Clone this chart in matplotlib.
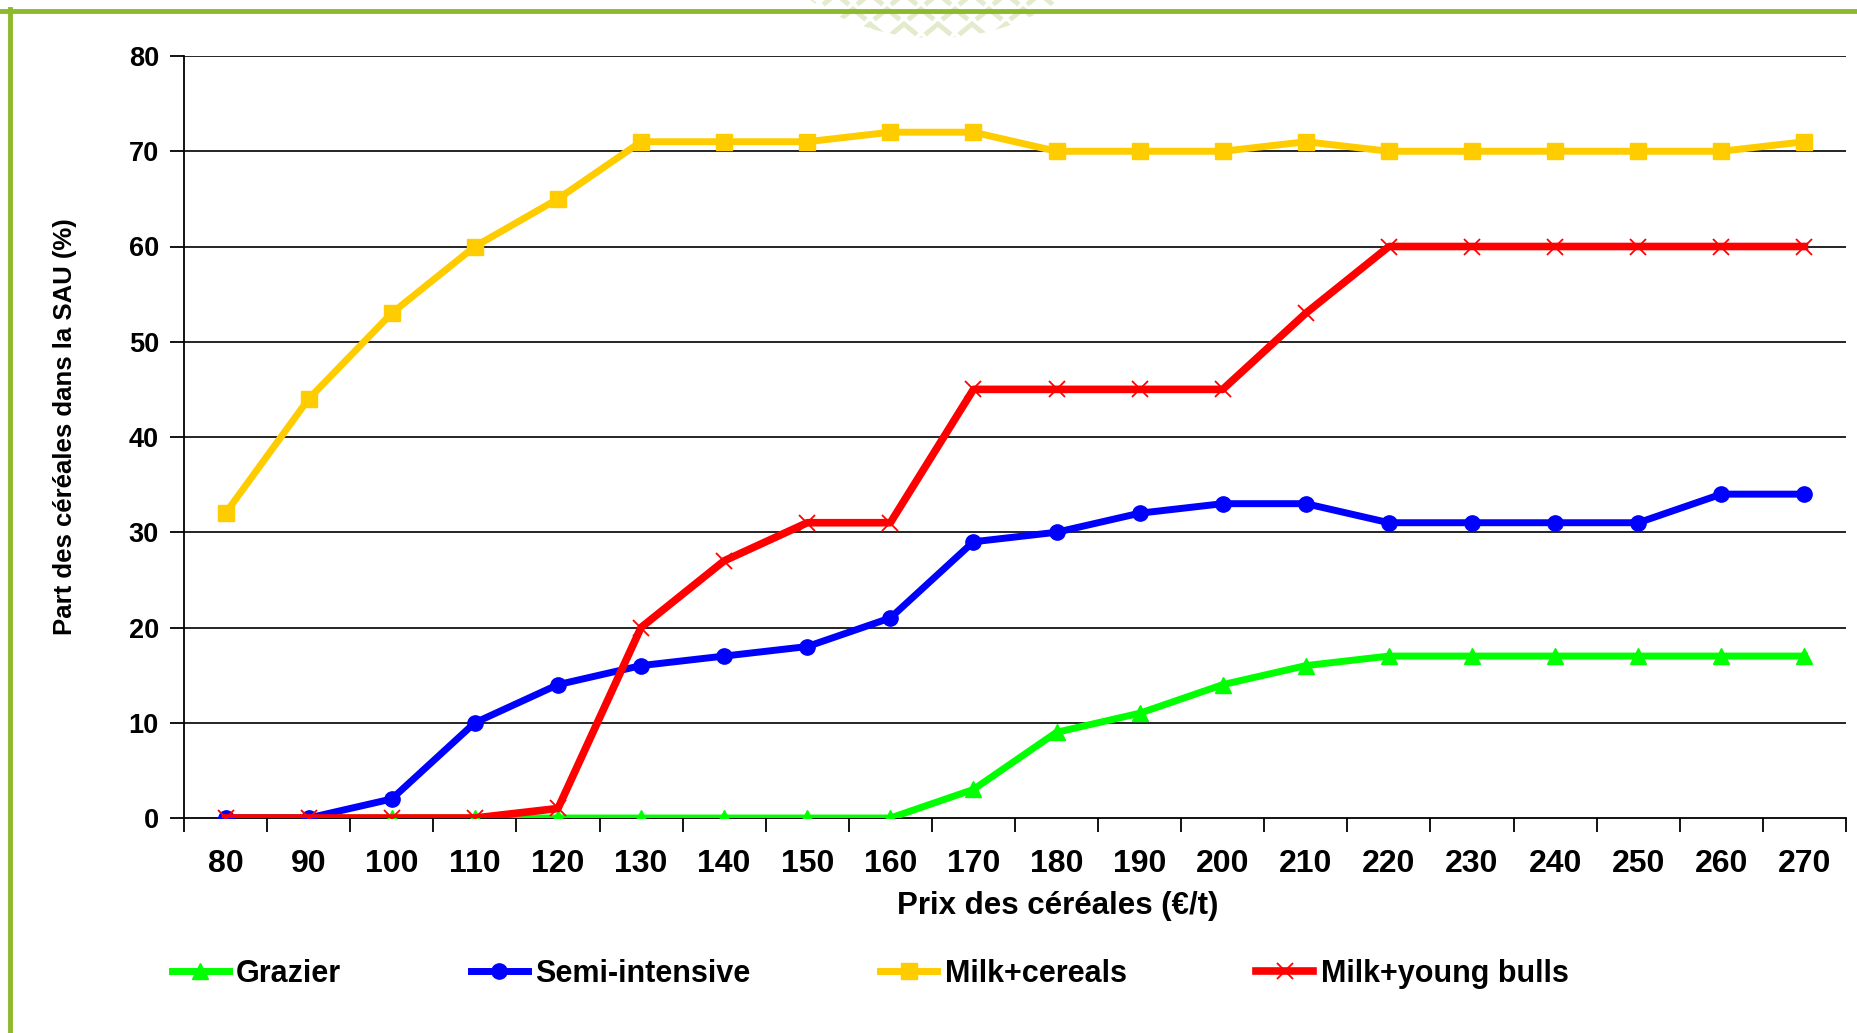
import matplotlib
matplotlib.use("Agg")
import matplotlib.pyplot as plt
from matplotlib import font_manager
from matplotlib.lines import Line2D
from matplotlib.patches import Ellipse
import numpy as np

prices = [80, 90, 100, 110, 120, 130, 140, 150, 160, 170, 180, 190, 200, 210, 220, 230, 240, 250, 260, 270]
grazier = [0, 0, 0, 0, 0, 0, 0, 0, 0, 3, 9, 11, 14, 16, 17, 17, 17, 17, 17, 17]
semi_intensive = [0, 0, 2, 10, 14, 16, 17, 18, 21, 29, 30, 32, 33, 33, 31, 31, 31, 31, 34, 34]
milk_cereals = [32, 44, 53, 60, 65, 71, 71, 71, 72, 72, 70, 70, 70, 71, 70, 70, 70, 70, 70, 71]
milk_bulls = [0, 0, 0, 0, 1, 20, 27, 31, 31, 45, 45, 45, 45, 53, 60, 60, 60, 60, 60, 60]
y_ticks = [0, 10, 20, 30, 40, 50, 60, 70, 80]
series_names = ["Grazier", "Semi-intensive", "Milk+cereals", "Milk+young bulls"]

W, H = 1858, 1033
plt.rcParams['font.family'] = ['Liberation Sans', 'DejaVu Sans']
plt.rcParams['font.weight'] = 'bold'

names = {f.name for f in font_manager.fontManager.ttflist}
narrow = 'Liberation Sans Narrow' if 'Liberation Sans Narrow' in names else 'Liberation Sans'

fig = plt.figure(figsize=(W / 100, H / 100), dpi=100)
fig.patch.set_facecolor('white')

def fx(px):
    return px / W

def fy(py):
    return 1 - py / H

ax = fig.add_axes([fx(184), fy(818), fx(1846) - fx(184), fy(56) - fy(818)])
x = np.arange(len(prices))

ax.plot(x, grazier, color='#00FF00', lw=5, marker='^', ms=11, mec='#00FF00', label=series_names[0], zorder=3)
ax.plot(x, semi_intensive, color='#0000FF', lw=5, marker='o', ms=11, mec='#0000FF', label=series_names[1], zorder=4)
ax.plot(x, milk_cereals, color='#FFCC00', lw=5, marker='s', ms=12, mec='#FFCC00', label=series_names[2], zorder=5)
ax.plot(x, milk_bulls, color='#FF0000', lw=5.5, marker='x', ms=12, mew=1.3, mec='#FF0000', label=series_names[3], zorder=6)

ax.set_xlim(-0.5, len(prices) - 0.5)
ax.set_ylim(0, 80)
ax.set_yticks(y_ticks)
ax.set_yticklabels([str(v) for v in y_ticks], fontsize=19.5, fontweight='bold')
ax.set_xticks(x)
ax.set_xticklabels([str(p) for p in prices], fontsize=23, fontweight='bold')
ax.tick_params(axis='x', which='major', length=0, pad=22)
ax.set_xticks(np.arange(-0.5, len(prices), 1), minor=True)
ax.tick_params(axis='x', which='minor', length=10, width=1.3, direction='out', color='black')
ax.tick_params(axis='y', length=10, width=1.3, direction='out', pad=8)

for v in y_ticks[1:]:
    ax.axhline(v, color='black', lw=1.2, zorder=1)

for s in ['top', 'right']:
    ax.spines[s].set_visible(False)
ax.spines['left'].set_linewidth(1.3)
ax.spines['bottom'].set_linewidth(1.3)

fig.text(fx(1058), fy(906), "Prix des céréales (€/t)", ha='center', va='center', fontsize=22.5, fontweight='bold')
fig.text(fx(65), fy(427), "Part des céréales dans la SAU (%)", ha='center', va='center', rotation=90,
         fontsize=18.5, fontweight='bold', family=[narrow, 'DejaVu Sans'])

leg = fig.legend(loc='center left', bbox_to_anchor=(fx(172), fy(974)), ncol=4, frameon=False,
                 fontsize=22, handlelength=1.85, handletextpad=0.25, columnspacing=4.25,
                 borderpad=0, borderaxespad=0)
for t in leg.get_texts():
    t.set_fontweight('bold')

# decorative chevrons at top centre
cx, cy, r = 935, -187, 225
clip = Ellipse((fx(cx), fy(cy)), 2 * r / W, 2 * r / H, transform=fig.transFigure,
               facecolor='none', edgecolor='none')
fig.add_artist(clip)
for row, yy in enumerate(np.arange(-6, 45, 15)):
    off = 0 if row % 2 == 0 else 17
    for xx in np.arange(700 + off, 1180, 34):
        ln = Line2D([fx(xx - 11), fx(xx), fx(xx + 11)], [fy(yy + 9), fy(yy), fy(yy + 9)],
                    transform=fig.transFigure, color='#E3EBCC', lw=3.5, solid_joinstyle='miter', zorder=0)
        ln.set_clip_path(clip)
        fig.add_artist(ln)

# green frame
fig.add_artist(Line2D([0, 1], [fy(11), fy(11)], transform=fig.transFigure, color='#8DB92A', lw=3.5))
fig.add_artist(Line2D([fx(10), fx(10)], [fy(9), 0], transform=fig.transFigure, color='#8DB92A', lw=3.5))

fig.savefig("out.png", dpi=100, facecolor='white')
